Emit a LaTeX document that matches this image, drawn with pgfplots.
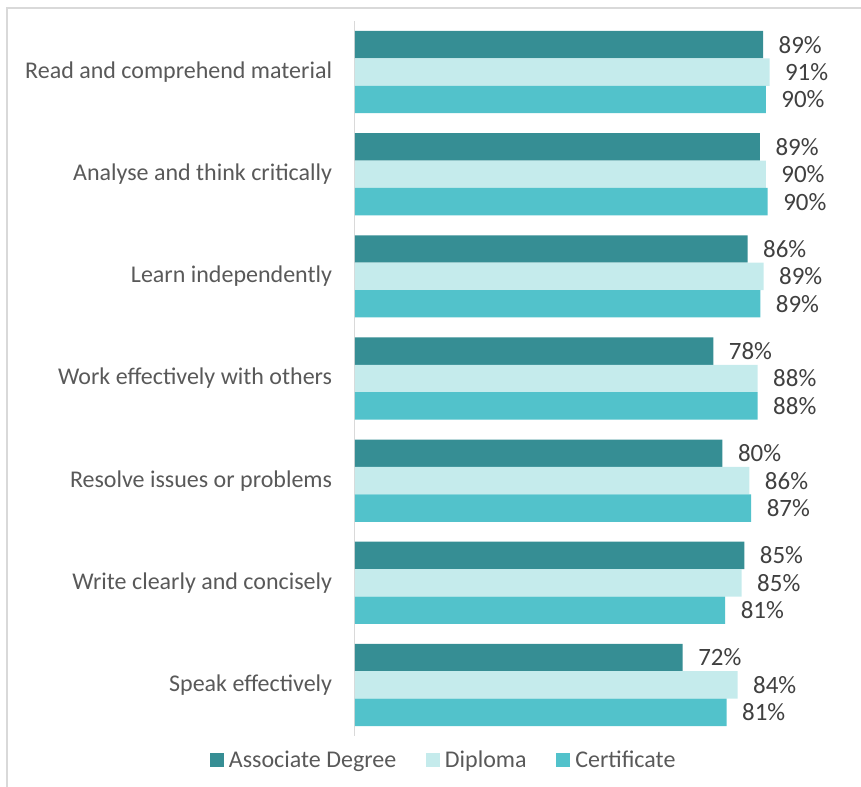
\documentclass[border=0pt]{standalone}
\usepackage{pgfplots}
\pgfplotsset{compat=1.18}
\usepackage{fontspec}
\setmainfont{Carlito}
\definecolor{assoc}{HTML}{368E94}
\definecolor{dipl}{HTML}{C5EBEC}
\definecolor{cert}{HTML}{52C2CB}
\definecolor{txt}{HTML}{595959}
\definecolor{lbl}{HTML}{404040}
\definecolor{frame}{HTML}{D9D9D9}

\pgfplotstableread{
idx assoc dipl cert
0 89.3 90.7 89.9
1 88.6 89.9 90.3
2 85.9 89.4 88.7
3 78.4 88.1 88.1
4 80.4 86.3 86.7
5 85.2 84.6 81.0
6 71.7 83.7 81.3
}\skills

\begin{document}
\begin{tikzpicture}
\useasboundingbox (0,0) rectangle (645.75pt,-589.5pt);
\draw[frame, line width=1.5pt] (5.25pt,-600pt) -- (5.25pt,-6pt) -- (660pt,-6pt);
\begin{axis}[
    at={(266.25pt,-552pt)}, anchor=south west,
    scale only axis,
    width=342.75pt, height=536.25pt,
    xbar=0pt, bar width=20.55pt,
    xmin=0, xmax=100,
    ymin=-0.5, ymax=6.5, y dir=reverse,
    hide x axis,
    axis y line*=left,
    y axis line style={frame, line width=0.75pt},
    ytick={0,...,6},
    yticklabels={Read and comprehend material, Analyse and think critically, Learn independently, Work effectively with others, Resolve issues or problems, Write clearly and concisely, Speak effectively},
    major tick length=0pt,
    ytick style={draw=none},
    y tick label style={inner sep=0pt, xshift=-17pt, text=txt},
    font=\fontsize{18}{22}\selectfont,
    /pgf/number format/assume math mode=true,
    nodes near coords={\pgfmathprintnumber[fixed, precision=0]{\pgfplotspointmeta}\%},
    nodes near coords style={anchor=west, inner sep=0pt, xshift=11.5pt, text=lbl,
        font=\fontsize{18.7}{22}\selectfont},
    point meta=x,
    clip=false,
    legend columns=3,
    legend style={at={(0.1915,-0.0336)}, anchor=center, draw=none, fill=none,
        nodes={inner sep=0pt, text=txt},
        /tikz/every odd column/.append style={column sep=4pt},
        /tikz/every even column/.append style={column sep=22pt}},
    legend image code/.code={\fill[#1] (0pt,-5.25pt) rectangle (10.5pt,5.25pt);},
]
\addplot[fill=assoc, draw=none, bar shift=20.55pt] table[x=assoc, y=idx] {\skills};
\addplot[fill=dipl, draw=none, bar shift=0pt] table[x=dipl, y=idx] {\skills};
\addplot[fill=cert, draw=none, bar shift=-20.55pt] table[x=cert, y=idx] {\skills};
\legend{Associate Degree, Diploma, Certificate}
\end{axis}
\end{tikzpicture}
\end{document}
